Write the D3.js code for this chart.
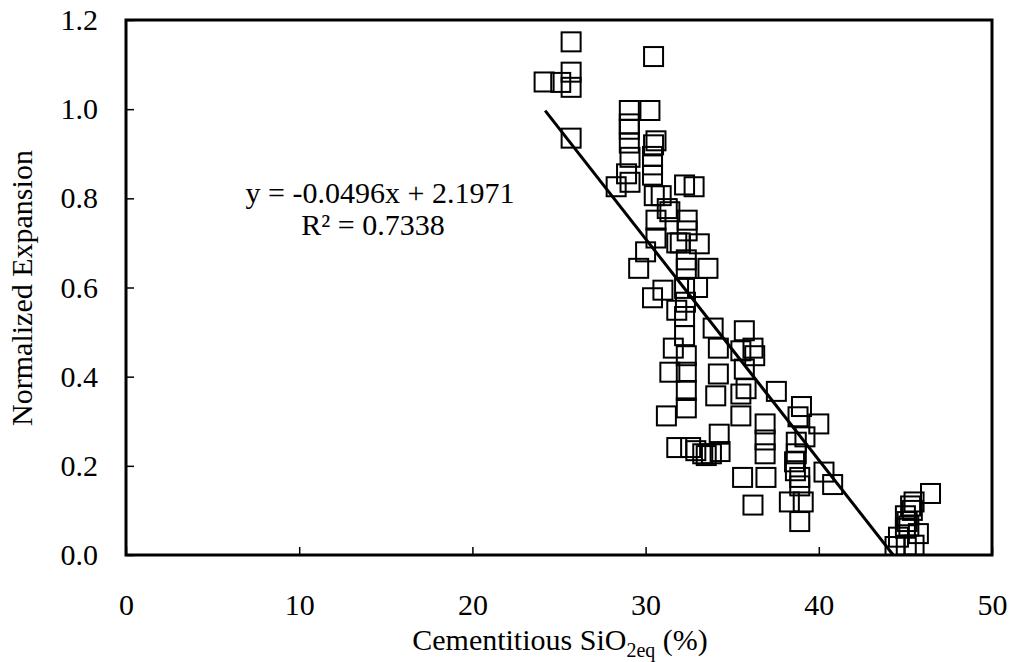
<!DOCTYPE html>
<html>
<head>
<meta charset="utf-8">
<script src="https://cdn.jsdelivr.net/npm/d3@7"></script>
<style>
  html, body { margin: 0; padding: 0; background: #fff; }
  text { font-family: "Liberation Serif", "Times New Roman", serif; fill: #000; }
</style>
</head>
<body>
<svg id="chart" width="1015" height="662"></svg>
<script>
// ---- data ----
const xValues = [
  25.7, 30.46, 24.14, 25.1, 25.7, 25.7, 25.7,
  29.06, 30.25, 29.06, 29.06, 29.06, 29.1, 28.9, 29.1, 28.3,
  30.46, 30.6, 30.4, 30.4, 30.4, 32.25, 32.8, 30.5, 30.9, 31.25, 31.4,
  30.6, 30.6, 32.4, 32.4, 31.8, 32.0, 33.1, 30.0, 29.6,
  32.35, 32.35, 33.6, 31.0, 30.4, 32.25, 33.0, 31.8, 32.3, 32.25, 32.25,
  33.9, 35.7, 31.6, 34.2, 35.5, 36.2, 36.3, 32.35, 31.4, 32.35, 34.2, 35.7,
  35.8, 35.5, 37.55, 34.05, 32.35, 32.35, 31.2, 35.5, 39.0, 38.8, 40.0, 36.9,
  34.25, 36.9, 39.2, 38.7, 36.9, 38.7, 38.6,
  31.8, 32.6, 32.9, 33.3, 33.5, 33.8, 34.3,
  38.65, 38.9, 35.6, 36.95, 40.3, 40.8, 38.9, 38.3, 39.1, 38.9, 36.2,
  46.45, 45.5, 45.4, 45.0, 45.1, 45.75, 44.6, 45.05, 44.4, 45.5, 45.3, 45.2, 45.0
];
const yValues = [
  1.151, 1.118, 1.061, 1.06, 1.083, 1.049, 0.935,
  0.997, 0.997, 0.967, 0.955, 0.924, 0.892, 0.855, 0.836, 0.826,
  0.92, 0.929, 0.894, 0.875, 0.852, 0.83, 0.826, 0.806, 0.806, 0.777, 0.77,
  0.751, 0.711, 0.751, 0.727, 0.70, 0.70, 0.698, 0.68, 0.643,
  0.662, 0.643, 0.643, 0.594, 0.577, 0.598, 0.60, 0.549, 0.567, 0.535, 0.492,
  0.509, 0.503, 0.464, 0.464, 0.458, 0.464, 0.447, 0.447, 0.41, 0.41, 0.406, 0.417,
  0.373, 0.361, 0.367, 0.357, 0.369, 0.33, 0.312, 0.312, 0.333, 0.31, 0.294, 0.294,
  0.271, 0.258, 0.265, 0.253, 0.227, 0.227, 0.209,
  0.241, 0.241, 0.234, 0.227, 0.223, 0.227, 0.232,
  0.189, 0.174, 0.174, 0.174, 0.186, 0.158, 0.155, 0.119, 0.119, 0.075, 0.112,
  0.138, 0.119, 0.10, 0.088, 0.075, 0.048, 0.04, 0.022, 0.019, 0.022, 0.11, 0.065, 0.06
];
const xTicks = [0, 10, 20, 30, 40, 50];
const yTicks = [0.0, 0.2, 0.4, 0.6, 0.8, 1.0, 1.2];
const slope = -0.0496;
const intercept = 2.1971;
const trendXStart = 24.2;
const equationLines = ["y = -0.0496x + 2.1971", "R² = 0.7338"];

// ---- layout ----
const svg = d3.select("#chart");
const mLeft = 126, mRight = 992, mTop = 20, mBottom = 555;
const fontSize = 30;

const x = d3.scaleLinear().domain([0, 50]).range([mLeft, mRight]);
const y = d3.scaleLinear().domain([0, 1.2]).range([mBottom, mTop]);

// axes (ticks pointing inward)
const xAxis = d3.axisBottom(x).tickValues(xTicks).tickSize(-8).tickPadding(39)
  .tickFormat(d3.format("d"));
const gx = svg.append("g").attr("transform", `translate(0,${mBottom})`).call(xAxis);
const yAxis = d3.axisLeft(y).tickValues(yTicks).tickSize(-8).tickPadding(28)
  .tickFormat(d3.format(".1f"));
const gy = svg.append("g").attr("transform", `translate(${mLeft},0)`).call(yAxis);
[gx, gy].forEach(g => {
  g.select(".domain").remove();
  g.selectAll(".tick line").attr("stroke", "#000").attr("stroke-width", 1.5);
  g.selectAll(".tick text").attr("font-size", fontSize)
    .attr("font-family", "Liberation Serif, Times New Roman, serif").attr("fill", "#000");
});

// clip for the markers
svg.append("clipPath").attr("id", "plotclip").append("rect")
  .attr("x", mLeft).attr("y", mTop).attr("width", mRight - mLeft).attr("height", mBottom - mTop);

// markers
const pts = xValues.map((v, i) => ({ x: v, y: yValues[i] }));
const s = 19;
svg.append("g").attr("clip-path", "url(#plotclip)")
  .selectAll("rect").data(pts).join("rect")
  .attr("x", d => x(d.x) - s / 2).attr("y", d => y(d.y) - s / 2)
  .attr("width", s).attr("height", s)
  .attr("fill", "none").attr("stroke", "#000").attr("stroke-width", 2);

// trendline
const xEnd = -intercept / slope;
svg.append("line")
  .attr("x1", x(trendXStart)).attr("y1", y(slope * trendXStart + intercept))
  .attr("x2", x(xEnd)).attr("y2", y(0))
  .attr("stroke", "#000").attr("stroke-width", 3);

// frame
svg.append("rect").attr("x", mLeft).attr("y", mTop)
  .attr("width", mRight - mLeft).attr("height", mBottom - mTop)
  .attr("fill", "none").attr("stroke", "#000").attr("stroke-width", 3);

// equation
svg.append("text").attr("x", 380).attr("y", 203).attr("text-anchor", "middle")
  .attr("font-size", fontSize).text(equationLines[0]);
svg.append("text").attr("x", 373).attr("y", 235).attr("text-anchor", "middle")
  .attr("font-size", fontSize).text(equationLines[1]);

// x title
const xt = svg.append("text").attr("x", 560).attr("y", 650).attr("text-anchor", "middle")
  .attr("font-size", fontSize);
xt.append("tspan").text("Cementitious SiO");
xt.append("tspan").attr("font-size", 20).attr("dy", 7).text("2eq");
xt.append("tspan").attr("dy", -7).text(" (%)");

// y title
svg.append("text").attr("transform", `translate(32,288) rotate(-90)`)
  .attr("text-anchor", "middle").attr("font-size", fontSize).text("Normalized Expansion");
</script>
</body>
</html>
